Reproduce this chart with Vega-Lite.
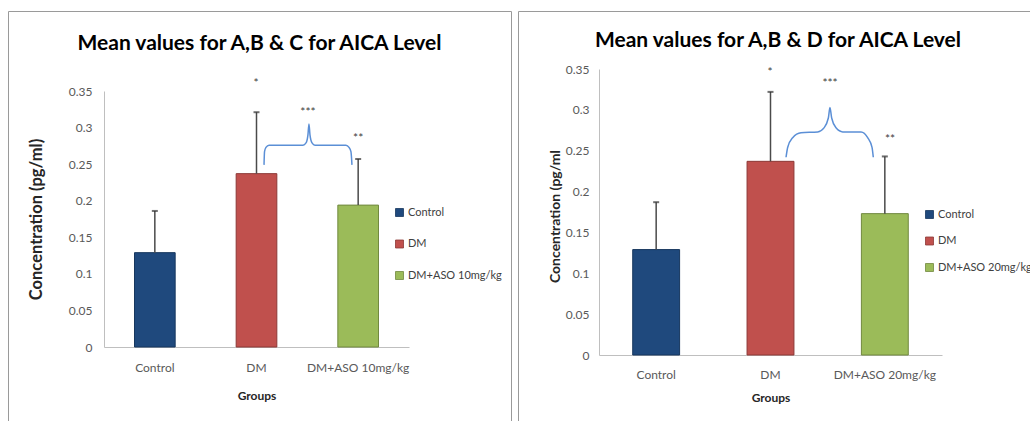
{
  "$schema": "https://vega.github.io/schema/vega-lite/v6.json",
  "padding": {"left": 7, "top": 10, "right": 0, "bottom": 0},
  "background": "white",
  "spacing": 7,
  "bounds": "flush",
  "datasets": {
    "leftBars": [
      {"group": "Control", "mean": 0.129, "upper": 0.186},
      {"group": "DM", "mean": 0.237, "upper": 0.321},
      {"group": "DM+ASO 10mg/kg", "mean": 0.194, "upper": 0.257}
    ],
    "rightBars": [
      {"group": "Control", "mean": 0.129, "upper": 0.187},
      {"group": "DM", "mean": 0.237, "upper": 0.322},
      {"group": "DM+ASO 20mg/kg", "mean": 0.173, "upper": 0.243}
    ],
    "leftBrace": [
      {"gx": 1.574, "v": 0.249}, {"gx": 1.579, "v": 0.267}, {"gx": 1.593, "v": 0.273},
      {"gx": 1.623, "v": 0.276}, {"gx": 1.957, "v": 0.276}, {"gx": 1.987, "v": 0.279},
      {"gx": 2.006, "v": 0.290}, {"gx": 2.016, "v": 0.305}, {"gx": 2.026, "v": 0.290},
      {"gx": 2.046, "v": 0.279}, {"gx": 2.075, "v": 0.276}, {"gx": 2.380, "v": 0.276},
      {"gx": 2.410, "v": 0.273}, {"gx": 2.429, "v": 0.267}, {"gx": 2.439, "v": 0.249}
    ],
    "rightBrace": [
      {"gx": 1.636, "v": 0.242}, {"gx": 1.650, "v": 0.254}, {"gx": 1.694, "v": 0.266},
      {"gx": 1.767, "v": 0.272}, {"gx": 1.913, "v": 0.273}, {"gx": 1.968, "v": 0.278},
      {"gx": 2.006, "v": 0.290}, {"gx": 2.020, "v": 0.303}, {"gx": 2.035, "v": 0.290},
      {"gx": 2.073, "v": 0.278}, {"gx": 2.132, "v": 0.273}, {"gx": 2.292, "v": 0.273},
      {"gx": 2.350, "v": 0.266}, {"gx": 2.388, "v": 0.254}, {"gx": 2.399, "v": 0.242}
    ],
    "leftStars": [
      {"gx": 1.495, "v": 0.361, "label": "*"},
      {"gx": 2.006, "v": 0.321, "label": "***"},
      {"gx": 2.5, "v": 0.286, "label": "**"}
    ],
    "rightStars": [
      {"gx": 1.496, "v": 0.346, "label": "*"},
      {"gx": 2.021, "v": 0.333, "label": "***"},
      {"gx": 2.546, "v": 0.264, "label": "**"}
    ]
  },
  "hconcat": [
    {
      "width": 503,
      "height": 430,
      "title": {"text": "Mean values for A,B & C for AICA Level", "offset": -43},
      "layer": [
        {
          "data": {"name": "leftBars"},
          "encoding": {
            "x": {
              "field": "group", "type": "nominal", "sort": null,
              "scale": {"range": [96, 401], "paddingInner": 0.6, "paddingOuter": 0.3},
              "axis": {"title": "Groups", "labelAngle": 0, "offset": -94, "labelPadding": 15, "titleY": 48, "titleBaseline": "middle"}
            }
          },
          "layer": [
            {
              "mark": {"type": "bar", "strokeWidth": 1},
              "encoding": {
                "y": {
                  "field": "mean", "type": "quantitative", "title": "Concentration (pg/ml)",
                  "scale": {"domain": [0, 0.35], "range": [336, 80], "nice": false},
                  "axis": {"values": [0, 0.05, 0.1, 0.15, 0.2, 0.25, 0.3, 0.35], "format": ".2~f", "offset": -96, "labelPadding": 12, "titleX": -68, "titleBaseline": "middle", "titleFontSize": 16.5}
                },
                "color": {
                  "field": "group", "type": "nominal",
                  "scale": {"domain": ["Control", "DM", "DM+ASO 10mg/kg"], "range": ["#1F497D", "#C0504D", "#9BBB59"]},
                  "legend": {"title": null, "orient": "none", "legendX": 386, "legendY": 196, "rowPadding": 18.5}
                },
                "stroke": {
                  "field": "group", "type": "nominal",
                  "scale": {"domain": ["Control", "DM", "DM+ASO 10mg/kg"], "range": ["#17375E", "#8C3836", "#71893F"]},
                  "legend": null
                }
              }
            },
            {
              "mark": {"type": "rule", "color": "#4a4a4a", "strokeWidth": 1.5},
              "encoding": {
                "y": {"field": "mean", "type": "quantitative", "title": "Concentration (pg/ml)"},
                "y2": {"field": "upper"}
              }
            },
            {
              "mark": {"type": "tick", "color": "#333333", "size": 6, "thickness": 2},
              "encoding": {
                "y": {"field": "upper", "type": "quantitative", "title": "Concentration (pg/ml)"}
              }
            }
          ]
        },
        {
          "encoding": {
            "x": {"field": "gx", "type": "quantitative", "scale": {"domain": [0, 3], "range": [96, 401], "nice": false, "zero": false}, "axis": null}
          },
          "layer": [
            {
              "data": {"name": "leftBrace"},
              "mark": {"type": "line", "color": "#5B8FD6", "strokeWidth": 1.5, "interpolate": "monotone"},
              "encoding": {"y": {"field": "v", "type": "quantitative", "title": "Concentration (pg/ml)"}}
            },
            {
              "data": {"name": "leftStars"},
              "mark": {"type": "text", "fontSize": 12, "color": "#404040", "baseline": "middle"},
              "encoding": {
                "y": {"field": "v", "type": "quantitative", "title": "Concentration (pg/ml)"},
                "text": {"field": "label"}
              }
            }
          ]
        }
      ],
      "resolve": {"scale": {"x": "independent"}}
    },
    {
      "width": 520,
      "height": 430,
      "title": {"text": "Mean values for A,B & D for AICA Level", "offset": -40},
      "layer": [
        {
          "data": {"name": "rightBars"},
          "encoding": {
            "x": {
              "field": "group", "type": "nominal", "sort": null,
              "scale": {"range": [81, 424], "paddingInner": 0.59, "paddingOuter": 0.295},
              "axis": {"title": "Groups", "labelAngle": 0, "offset": -86, "labelPadding": 14, "titleY": 42, "titleBaseline": "middle"}
            }
          },
          "layer": [
            {
              "mark": {"type": "bar", "strokeWidth": 1},
              "encoding": {
                "y": {
                  "field": "mean", "type": "quantitative", "title": "Concentration (pg/ml",
                  "scale": {"domain": [0, 0.35], "range": [344, 58], "nice": false},
                  "axis": {"values": [0, 0.05, 0.1, 0.15, 0.2, 0.25, 0.3, 0.35], "format": ".2~f", "offset": -81, "labelPadding": 10, "titleX": -44, "titleY": 205, "titleBaseline": "middle", "titleFontSize": 14}
                },
                "color": {
                  "field": "group", "type": "nominal",
                  "scale": {"domain": ["Control", "DM", "DM+ASO 20mg/kg"], "range": ["#1F497D", "#C0504D", "#9BBB59"]},
                  "legend": {"title": null, "orient": "none", "legendX": 406, "legendY": 198, "rowPadding": 13.5}
                },
                "stroke": {
                  "field": "group", "type": "nominal",
                  "scale": {"domain": ["Control", "DM", "DM+ASO 20mg/kg"], "range": ["#17375E", "#8C3836", "#71893F"]},
                  "legend": null
                }
              }
            },
            {
              "mark": {"type": "rule", "color": "#4a4a4a", "strokeWidth": 1.5},
              "encoding": {
                "y": {"field": "mean", "type": "quantitative", "title": "Concentration (pg/ml"},
                "y2": {"field": "upper"}
              }
            },
            {
              "mark": {"type": "tick", "color": "#333333", "size": 6, "thickness": 2},
              "encoding": {
                "y": {"field": "upper", "type": "quantitative", "title": "Concentration (pg/ml"}
              }
            }
          ]
        },
        {
          "encoding": {
            "x": {"field": "gx", "type": "quantitative", "scale": {"domain": [0, 3], "range": [81, 424], "nice": false, "zero": false}, "axis": null}
          },
          "layer": [
            {
              "data": {"name": "rightBrace"},
              "mark": {"type": "line", "color": "#5B8FD6", "strokeWidth": 1.5, "interpolate": "monotone"},
              "encoding": {"y": {"field": "v", "type": "quantitative", "title": "Concentration (pg/ml"}}
            },
            {
              "data": {"name": "rightStars"},
              "mark": {"type": "text", "fontSize": 12, "color": "#404040", "baseline": "middle"},
              "encoding": {
                "y": {"field": "v", "type": "quantitative", "title": "Concentration (pg/ml"},
                "text": {"field": "label"}
              }
            }
          ]
        }
      ],
      "resolve": {"scale": {"x": "independent"}}
    }
  ],
  "resolve": {"scale": {"color": "independent", "stroke": "independent", "y": "independent"}, "legend": {"color": "independent"}},
  "config": {
    "font": "Lato, sans-serif",
    "view": {"stroke": "#9a9a9a", "strokeWidth": 1},
    "axis": {"grid": false, "ticks": false, "tickSize": 0, "domainColor": "#bfbfbf", "domainWidth": 1, "labelColor": "#595959", "labelFontSize": 12, "titleColor": "#262626", "titleFontWeight": "bold", "titleFontSize": 12},
    "legend": {"symbolType": "square", "symbolSize": 64, "labelFontSize": 11, "labelColor": "#404040", "labelOffset": 3, "symbolStrokeColor": "#404040", "symbolStrokeWidth": 0.8, "padding": 0},
    "title": {"fontSize": 21, "fontWeight": "bold", "color": "#000000", "anchor": "middle", "frame": "group", "baseline": "alphabetic"}
  }
}
